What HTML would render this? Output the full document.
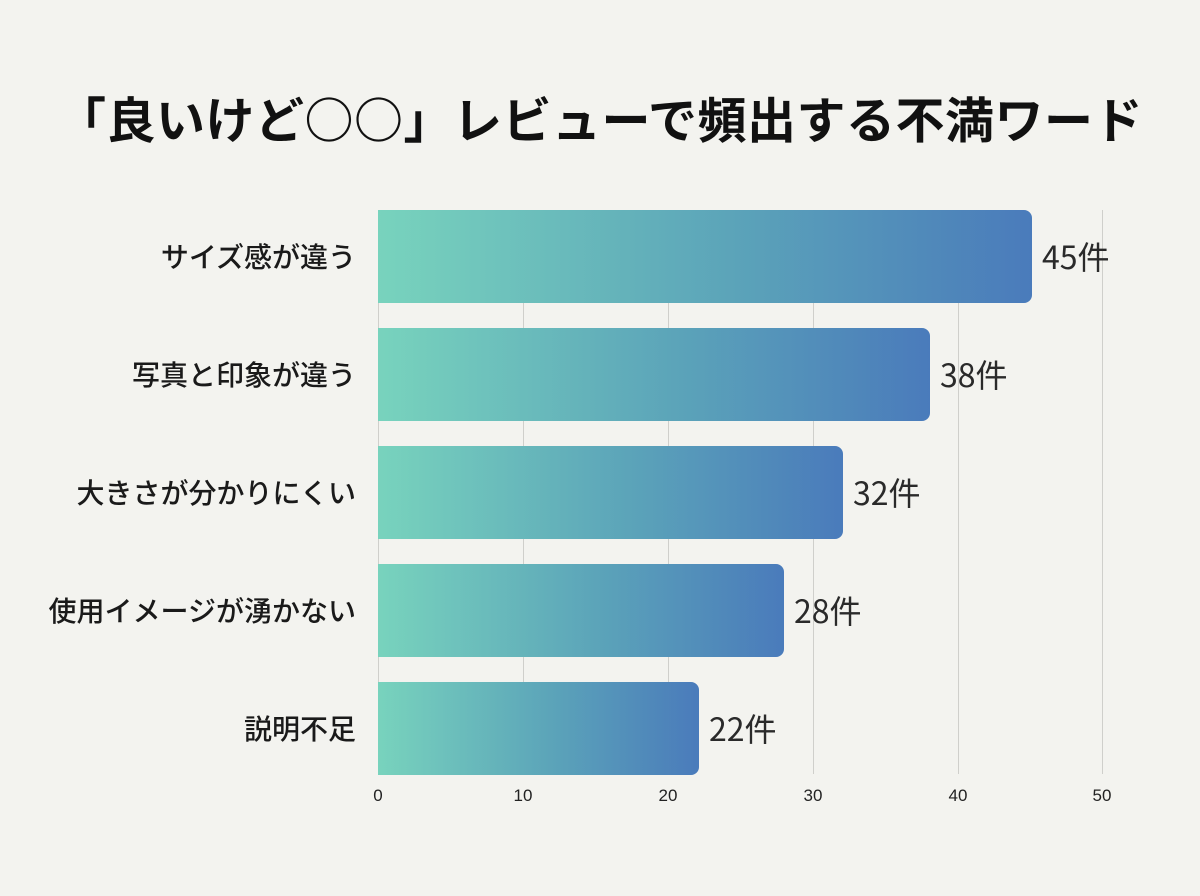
<!DOCTYPE html>
<html><head><meta charset="utf-8"><style>
body{margin:0;width:1200px;height:896px;background:#f3f3ef;font-family:"Liberation Sans","Noto Sans CJK JP",sans-serif;overflow:hidden;position:relative}
.t{position:absolute;left:0;width:1200px;top:82px;text-align:center;font-size:49px;font-weight:bold;color:#111;font-family:"Noto Sans CJK JP",sans-serif;letter-spacing:0.5px}
.g{position:absolute;top:210px;height:564px;width:1px;background:#cfcfcb}
.bar{position:absolute;left:378px;height:93px;border-radius:0 8px 8px 0;background:linear-gradient(to right,#78d3bd,#5ba3b9 55%,#4a7bbb)}
.lb{position:absolute;right:844px;font-size:28px;font-weight:500;color:#1a1a1a;font-family:"Noto Sans CJK JP",sans-serif;line-height:93px;white-space:nowrap}
.v{position:absolute;font-size:32px;color:#2a2a2a;font-family:"Noto Sans CJK JP",sans-serif;line-height:93px}
.tk{position:absolute;top:786px;font-size:17px;color:#222;width:40px;margin-left:-20px;text-align:center}
</style></head><body>
<div class="t">「良いけど○○」レビューで頻出する不満ワード</div>
<div class="g" style="left:378px"></div><div class="g" style="left:523px"></div><div class="g" style="left:668px"></div><div class="g" style="left:813px"></div><div class="g" style="left:958px"></div><div class="g" style="left:1102px"></div>
<div class="bar" style="top:210px;width:654px"></div><div class="lb" style="top:210px">サイズ感が違う</div><div class="v" style="top:210px;left:1042px">45件</div>
<div class="bar" style="top:328px;width:552px"></div><div class="lb" style="top:328px">写真と印象が違う</div><div class="v" style="top:328px;left:940px">38件</div>
<div class="bar" style="top:446px;width:465px"></div><div class="lb" style="top:446px">大きさが分かりにくい</div><div class="v" style="top:446px;left:853px">32件</div>
<div class="bar" style="top:564px;width:406px"></div><div class="lb" style="top:564px">使用イメージが湧かない</div><div class="v" style="top:564px;left:794px">28件</div>
<div class="bar" style="top:682px;width:321px"></div><div class="lb" style="top:682px">説明不足</div><div class="v" style="top:682px;left:709px">22件</div>
<div class="tk" style="left:378px">0</div><div class="tk" style="left:523px">10</div><div class="tk" style="left:668px">20</div><div class="tk" style="left:813px">30</div><div class="tk" style="left:958px">40</div><div class="tk" style="left:1102px">50</div>
</body></html>
